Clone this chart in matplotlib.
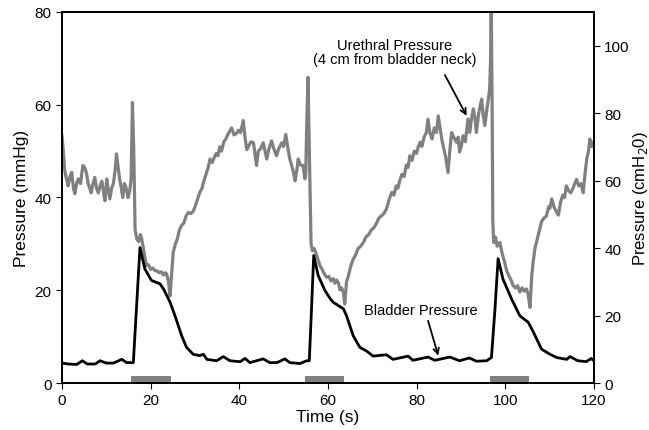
import numpy as np
import matplotlib
matplotlib.use("Agg")
from matplotlib import pyplot as plt

plt.rcParams["font.family"] = ["Liberation Sans", "DejaVu Sans"]

# urethral pressure (mmHg)
urethraTime = [0.0, 0.3, 0.6, 1.0, 1.4, 1.8, 2.2, 2.6, 2.9, 3.3, 3.7, 4.2, 4.7, 5.1, 5.5, 5.9,
               6.2, 6.6, 7.0, 7.4, 7.8, 8.2, 8.6, 9.0, 9.4, 9.7, 10.1, 10.4, 10.8, 11.2, 11.6,
               12.0, 12.3, 12.6, 13.0, 13.4, 13.7, 14.1, 14.5, 14.9, 15.3, 15.6, 15.9, 16.2,
               16.5, 16.9, 17.3, 17.7, 18.0, 18.4, 18.8, 19.1, 19.5, 20.0, 20.5, 21.0, 21.4,
               21.9, 22.4, 22.9, 23.3, 23.6, 24.0, 24.4, 24.7, 25.1, 25.6, 26.0, 26.5, 27.0,
               27.5, 28.0, 28.5, 29.0, 29.6, 30.2, 30.7, 31.1, 31.6, 32.0, 32.5, 33.0, 33.4,
               33.9, 34.3, 34.8, 35.2, 35.6, 36.0, 36.5, 36.9, 37.4, 37.9, 38.3, 38.8, 39.4,
               39.8, 40.3, 40.9, 41.3, 41.7, 42.1, 42.6, 43.2, 43.6, 43.9, 44.3, 44.8, 45.4,
               45.8, 46.2, 46.7, 47.3, 47.8, 48.4, 48.9, 49.6, 50.0, 50.5, 51.0, 51.4, 51.8,
               52.2, 52.6, 53.0, 53.3, 53.8, 54.4, 54.8, 55.0, 55.2, 55.5, 55.8, 56.2, 56.5,
               56.9, 57.3, 57.8, 58.2, 58.7, 59.2, 59.7, 60.2, 60.7, 61.2, 61.6, 62.0, 62.4,
               62.7, 63.1, 63.5, 63.8, 64.2, 64.6, 65.1, 65.7, 66.2, 66.8, 67.4, 68.0, 68.6,
               69.2, 69.8, 70.4, 71.0, 71.4, 72.0, 72.6, 73.2, 73.8, 74.4, 74.9, 75.4, 75.8,
               76.2, 76.7, 77.2, 77.7, 78.1, 78.5, 79.0, 79.5, 80.0, 80.4, 80.8, 81.2, 81.7,
               82.2, 82.6, 83.0, 83.5, 84.0, 84.5, 84.9, 85.3, 85.7, 86.0, 86.5, 87.1, 87.5,
               87.9, 88.4, 89.0, 89.4, 89.7, 90.1, 90.5, 91.0, 91.6, 92.0, 92.4, 92.8, 93.2,
               93.5, 94.0, 94.4, 94.7, 95.0, 95.4, 95.8, 96.2, 96.5, 96.7, 96.85, 97.05, 97.2,
               97.4, 97.8, 98.2, 98.8, 99.3, 99.9, 100.4, 100.9, 101.4, 101.8, 102.3, 102.8,
               103.3, 103.8, 104.3, 104.8, 105.2, 105.6, 106.0, 106.3, 106.7, 107.1, 107.6,
               108.2, 108.7, 109.3, 109.8, 110.1, 110.5, 111.0, 111.5, 112.0, 112.5, 113.0,
               113.4, 113.8, 114.3, 114.8, 115.3, 115.7, 116.1, 116.6, 117.1, 117.6, 118.0,
               118.4, 118.8, 119.1, 119.5, 119.8, 120.0]
urethraPressure = [53.3, 50, 46, 44, 42.5, 44.5, 45.4, 42, 40.8, 43, 44, 43, 46.9, 46.5, 45.4, 43,
                   42.2, 41, 43, 44.3, 42, 41, 42.5, 43.5, 41, 39.3, 44, 42, 39.7, 42, 43,
                   46, 49.4, 47, 44, 42, 40, 43, 42, 40, 41.5, 44, 60.5, 50,
                   33, 31, 30.5, 32, 31, 28.9, 26.5, 25.3, 25.5, 24.5, 24.8, 24.2, 24.2,
                   23.8, 24, 23.3, 23.8, 23.5, 22, 18.8, 23, 28.2, 30, 31, 33, 34,
                   34.5, 36, 36.8, 36.5, 37, 38.5, 40, 41.1, 42, 43.5, 45, 46.5, 48.3,
                   47.5, 48.5, 49.5, 49, 50.9, 50, 52, 52.5, 53.5, 54.4, 55, 53.5, 53.8,
                   54.5, 54, 56.6, 53, 50.3, 51, 52, 51.8, 49, 46.9, 50, 50.5, 51.8,
                   50, 48.3, 50.5, 52.2, 50.5, 49, 50.5, 51.8, 51, 53.6, 50.5, 48.3, 47,
                   45.5, 43.6, 46, 48.3, 47, 46.9, 44, 45, 55, 65.9, 50, 30, 28.5,
                   29, 28, 26.5, 25.3, 24.5, 23.5, 22.8, 23, 22, 22.5, 21.5, 22.2, 21.5,
                   20.1, 20.5, 19.5, 17, 21.8, 23, 25, 26.7, 27.5, 29, 29.5, 30.3, 31.5,
                   32, 33, 33.5, 34.5, 35.4, 36, 36.5, 37.5, 39.5, 41.1, 40.5, 42.5, 42,
                   43.6, 45, 44.5, 47, 46.5, 49, 48, 50, 49.5, 51, 51.9, 51, 53,
                   54, 56.9, 54, 52.6, 55, 54, 57.6, 55, 52.5, 51.2, 49, 45.4, 50,
                   54, 53, 51.9, 53, 49.8, 51, 53.3, 52, 56.9, 54, 57, 59.1, 57,
                   54, 58, 60, 61.2, 58, 55.5, 58.5, 61.2, 63.4, 70, 82, 60, 35,
                   30.3, 31.5, 29.5, 30.3, 28, 25.9, 24, 23, 22, 21, 20.5, 21,
                   19.6, 20.5, 19.8, 20.3, 19, 16.3, 23.2, 26, 29, 30.5, 32.5,
                   34.8, 35.5, 36, 38, 37.7, 39.7, 38, 37, 36.2, 39, 40.5,
                   40, 42.5, 41.5, 41, 42, 43, 43.9, 42.5, 43, 41, 45,
                   48.3, 50, 52.6, 51, 51.2, 52]

# bladder pressure (mmHg)
bladderTime = [0.0, 1.5, 3.3, 4.6, 5.7, 7.5, 8.6, 10.0, 11.6, 13.5, 14.6, 16.1, 16.8, 17.6,
               18.7, 20.2, 22.1, 22.9, 24.4, 25.5, 27.0, 28.1, 29.6, 31.1, 31.9, 32.7, 34.9,
               36.4, 37.9, 40.2, 41.3, 42.4, 45.4, 46.9, 48.5, 50.3, 51.4, 53.7, 55.2, 55.8,
               56.3, 56.8, 57.8, 59.3, 60.5, 61.2, 63.5, 64.2, 65.7, 67.2, 68.7, 70.2, 73.2,
               74.7, 78.1, 79.2, 82.6, 84.1, 87.5, 89.7, 91.9, 93.5, 95.8, 96.9, 97.7, 98.4,
               99.5, 101.4, 103.3, 105.2, 106.4, 108.2, 110.1, 111.6, 113.9, 114.6, 116.4,
               118.3, 119.4, 120.0]
bladderPressure = [4.3, 4.1, 4.0, 4.8, 4.1, 4.1, 4.8, 4.3, 4.3, 5.1, 4.4, 4.4, 16.0, 29.2,
                   24.6, 22.1, 21.4, 20.3, 17.4, 14.5, 10.2, 7.7, 6.2, 5.9, 6.2, 5.1, 4.8,
                   5.7, 4.8, 4.6, 5.3, 4.4, 5.2, 4.4, 4.4, 5.2, 4.4, 4.2, 4.8, 4.8,
                   16.0, 27.5, 23.2, 20.0, 18.2, 17.4, 16.0, 14.5, 10.2, 7.7, 6.9, 5.8, 6.1,
                   5.1, 5.8, 4.9, 5.6, 4.9, 5.6, 4.8, 5.4, 4.7, 4.8, 5.5, 16.0, 26.8,
                   22.4, 18.2, 14.5, 13.1, 10.9, 7.3, 6.2, 5.5, 5.1, 5.7, 4.8,
                   4.6, 5.3, 4.8]

# stimulation periods (s)
stimStart = [15.6, 54.9, 96.5]
stimEnd = [24.7, 63.7, 105.4]
stimHeight = 1.6

xTicks = [0, 20, 40, 60, 80, 100, 120]
leftTicks = [0, 20, 40, 60, 80]
rightTicks = [0, 20, 40, 60, 80, 100]

grey = "#808080"

figure = plt.figure(figsize=(6.49, 4.31), dpi=100)
axis = figure.add_axes([0.0955, 0.109, 0.8195, 0.861])

axis.bar(stimStart, stimHeight, width=np.array(stimEnd) - np.array(stimStart),
         align="edge", color=grey, zorder=1)
axis.plot(urethraTime, urethraPressure, color=grey, lw=2.3, zorder=2)
axis.plot(bladderTime, bladderPressure, color="black", lw=2.0, zorder=3)

axis.set_xlim(0, 120)
axis.set_ylim(0, 80)
axis.set_xticks(xTicks)
axis.set_yticks(leftTicks)
axis.tick_params(direction="out", length=4, labelsize=11)
axis.set_xlabel("Time (s)", fontsize=12.5, labelpad=1)
axis.set_ylabel("Pressure (mmHg)", fontsize=12.5, labelpad=4)

axisRight = axis.twinx()
axisRight.set_ylim(0, 110)
axisRight.set_yticks(rightTicks)
axisRight.tick_params(direction="out", length=4, labelsize=11)
axisRight.set_ylabel("Pressure (cmH$_2$0)", fontsize=12, labelpad=1)

for ax in (axis, axisRight):
    for spine in ax.spines.values():
        spine.set_linewidth(1.3)

arrowStyle = dict(arrowstyle="->", color="black", lw=1.3, shrinkA=0, shrinkB=0)

axis.text(75, 71.4, "Urethral Pressure\n(4 cm from bladder neck)", ha="center", va="center",
          fontsize=10.5, linespacing=1.05)
axis.annotate("", xy=(91.3, 57.6), xytext=(86.4, 66.4), arrowprops=arrowStyle)

axis.text(81, 15.7, "Bladder Pressure", ha="center", va="center", fontsize=10.5)
axis.annotate("", xy=(84.9, 5.9), xytext=(82.6, 13.4), arrowprops=arrowStyle)

figure.savefig("out.png", dpi=100)
